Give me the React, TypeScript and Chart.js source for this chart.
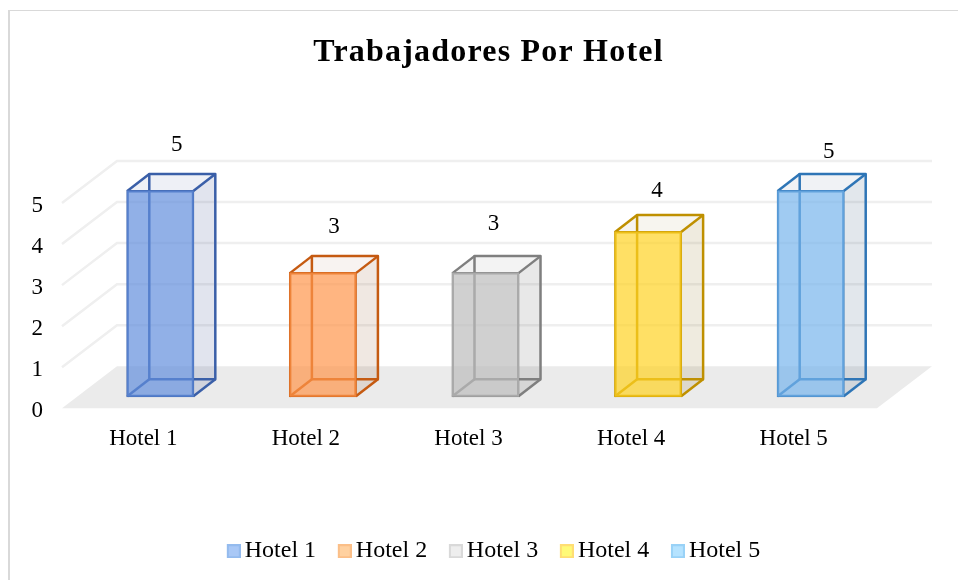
import React, { useEffect, useRef } from "react";
import { Chart, registerables } from "chart.js";

Chart.register(...registerables);

const hotels = ["Hotel 1", "Hotel 2", "Hotel 3", "Hotel 4", "Hotel 5"];
const workers = [5, 3, 3, 4, 5];
const yTicks = [0, 1, 2, 3, 4, 5];
const chartTitle = "Trabajadores Por Hotel";

const frontFill = ["rgba(99,143,221,0.7)", "rgba(255,149,75,0.7)", "rgba(188,188,188,0.7)", "rgba(255,211,36,0.7)", "rgba(119,181,236,0.7)"];
const edgeColor = ["#3A5FA8", "#C55A11", "#7F7F7F", "#BF9000", "#2E75B6"];
const sideFill = ["rgba(68,90,150,0.16)", "rgba(150,90,50,0.14)", "rgba(90,90,90,0.14)", "rgba(140,110,30,0.14)", "rgba(60,95,130,0.15)"];
const topFill = ["rgba(68,90,150,0.09)", "rgba(150,90,50,0.07)", "rgba(90,90,90,0.07)", "rgba(140,110,30,0.07)", "rgba(60,95,130,0.08)"];
const legendFill = ["#A9C8F6", "#FFD1A0", "#EEEEEE", "#FFFA78", "#B5E3FF"];
const legendEdge = ["#94BBEE", "#FBBF88", "#D9D9D9", "#FFDE74", "#99D2F7"];
const labelNudgeX = [33.5, 28, 25, 26, 35];
const labelNudgeY = [-58.5, -58, -61, -53, -51];

const FONT = "'Liberation Serif', 'Times New Roman', serif";
const WALL = { dx: 55, dy: -42 };
const BAR_FRONT = { dx: 17, dy: -12 };
const BAR_DEPTH = { dx: 22, dy: -17 };
const FLOOR_EXTRA = 2;

const poly = (ctx: CanvasRenderingContext2D, pts: number[][]) => {
  ctx.beginPath();
  pts.forEach((p, i) => (i ? ctx.lineTo(p[0], p[1]) : ctx.moveTo(p[0], p[1])));
};

const swatch = (fill: string, edge: string) => {
  const c = document.createElement("canvas");
  c.width = 16;
  c.height = 14;
  const g = c.getContext("2d") as CanvasRenderingContext2D;
  g.fillStyle = fill;
  g.fillRect(2, 0, 14, 14);
  g.strokeStyle = edge;
  g.lineWidth = 2;
  g.strokeRect(3, 1, 12, 12);
  return c;
};

const layoutShift = {
  id: "layoutShift",
  afterLayout(chart: any) {
    const t = chart.titleBlock;
    t.left += 51;
    t.right += 51;
    const l = chart.legend;
    l.left += 59;
    l.right += 59;
    const ly = 511.5 - l.top;
    l.top += ly;
    l.bottom += ly;
    if (!t.__spaced) {
      t.__spaced = true;
      const orig = t.draw;
      t.draw = function () {
        (chart.ctx as any).letterSpacing = "1.2px";
        orig.call(t);
        (chart.ctx as any).letterSpacing = "0px";
      };
    }
  },
};

const box3d = {
  id: "box3d",
  beforeDatasetsDraw(chart: any) {
    const { ctx, chartArea: a, scales } = chart;
    const y = scales.y;
    const right = a.right + FLOOR_EXTRA;
    ctx.save();
    // floor
    ctx.fillStyle = "#EBEBEB";
    const y0 = y.getPixelForValue(0);
    poly(ctx, [
      [a.left, y0],
      [a.left + WALL.dx, y0 + WALL.dy],
      [right + WALL.dx, y0 + WALL.dy],
      [right, y0],
    ]);
    ctx.closePath();
    ctx.fill();
    // wall grid lines
    ctx.strokeStyle = "#EFEFEF";
    ctx.lineWidth = 2.5;
    yTicks.slice(1).forEach((v) => {
      const py = y.getPixelForValue(v);
      poly(ctx, [
        [a.left, py],
        [a.left + WALL.dx, py + WALL.dy],
        [right + WALL.dx, py + WALL.dy],
      ]);
      ctx.stroke();
    });
    // hidden and side faces of each bar
    const meta = chart.getDatasetMeta(0);
    meta.data.forEach((bar: any, i: number) => {
      const L = bar.x - bar.width / 2 + BAR_FRONT.dx;
      const R = bar.x + bar.width / 2 + BAR_FRONT.dx;
      const T = bar.y + BAR_FRONT.dy;
      const B = bar.base + BAR_FRONT.dy;
      const dx = BAR_DEPTH.dx;
      const dy = BAR_DEPTH.dy;
      ctx.fillStyle = sideFill[i];
      poly(ctx, [[R, T], [R + dx, T + dy], [R + dx, B + dy], [R, B]]);
      ctx.closePath();
      ctx.fill();
      ctx.fillStyle = topFill[i];
      poly(ctx, [[L, T], [L + dx, T + dy], [R + dx, T + dy], [R, T]]);
      ctx.closePath();
      ctx.fill();
      ctx.strokeStyle = edgeColor[i];
      ctx.lineWidth = 2.5;
      ctx.lineJoin = "round";
      ctx.strokeRect(L + dx, T + dy, R - L, B - T);
      [[L, T], [R, T], [L, B], [R, B]].forEach(([px, py]) => {
        poly(ctx, [[px, py], [px + dx, py + dy]]);
        ctx.stroke();
      });
    });
    ctx.restore();
  },
  beforeDatasetDraw(chart: any) {
    chart.ctx.save();
    chart.ctx.translate(BAR_FRONT.dx, BAR_FRONT.dy);
  },
  afterDatasetDraw(chart: any) {
    chart.ctx.restore();
  },
  afterDatasetsDraw(chart: any) {
    const { ctx, scales } = chart;
    ctx.save();
    ctx.font = `23px ${FONT}`;
    ctx.fillStyle = "#000";
    ctx.textAlign = "center";
    ctx.textBaseline = "middle";
    workers.forEach((v, i) => {
      ctx.fillText(
        String(v),
        scales.x.getPixelForValue(i) + labelNudgeX[i],
        scales.y.getPixelForValue(v) + labelNudgeY[i]
      );
    });
    ctx.restore();
  },
};

export default function App() {
  const ref = useRef<HTMLCanvasElement>(null);
  useEffect(() => {
    const chart = new Chart(ref.current as HTMLCanvasElement, {
      type: "bar",
      data: {
        labels: hotels,
        datasets: [
          {
            data: workers,
            backgroundColor: frontFill,
            borderColor: edgeColor,
            borderWidth: 0.5,
            inflateAmount: 1,
            borderSkipped: false,
            barPercentage: 0.406,
            categoryPercentage: 1,
            clip: false,
          } as any,
        ],
      },
      plugins: [layoutShift, box3d],
      options: {
        responsive: false,
        animation: false,
        layout: { padding: { left: 0, right: 83, top: 0, bottom: 0 } },
        plugins: {
          title: {
            display: true,
            text: chartTitle,
            color: "#000",
            font: { family: FONT, size: 32, weight: "bold" },
            padding: { top: 34, bottom: 130.6 },
          },
          legend: {
            display: true,
            position: "bottom",
            labels: {
              color: "#000",
              font: { family: FONT, size: 24 },
              usePointStyle: true,
              boxWidth: 0.01,
              boxHeight: 14,
              padding: 27.7,
              generateLabels: () =>
                hotels.map((h, i) => ({
                  text: h,
                  fillStyle: legendFill[i],
                  strokeStyle: legendEdge[i],
                  lineWidth: 0,
                  pointStyle: swatch(legendFill[i], legendEdge[i]),
                  hidden: false,
                  index: i,
                })),
            },
          },
          tooltip: { enabled: false },
        },
        scales: {
          x: {
            grid: { display: false },
            border: { display: false },
            ticks: { color: "#000", font: { family: FONT, size: 23 }, padding: 9, maxRotation: 0 },
            afterFit: (s: any) => {
              s.height = 110;
            },
          },
          y: {
            min: 0,
            max: 5,
            grid: { display: false },
            border: { display: false },
            afterBuildTicks: (s: any) => {
              s.ticks = yTicks.map((value) => ({ value }));
            },
            ticks: { color: "#000", font: { family: FONT, size: 23 }, padding: 11, labelOffset: 2.5 },
            afterFit: (s: any) => {
              s.width = 62;
            },
          },
        },
      } as any,
    });
    return () => chart.destroy();
  }, []);
  return (
    <div style={{ position: "fixed", left: 0, top: 0, width: 958, height: 580, overflow: "hidden", background: "#fff" }}>
      <canvas ref={ref} width={958} height={580} style={{ position: "absolute", left: 0, top: 0, display: "block" }} />
      <div
        style={{
          position: "absolute",
          left: 8,
          top: 10,
          width: 960,
          height: 580,
          borderLeft: "2px solid #D9D9D9",
          borderTop: "1px solid #D9D9D9",
          pointerEvents: "none",
        }}
      />
    </div>
  );
}
